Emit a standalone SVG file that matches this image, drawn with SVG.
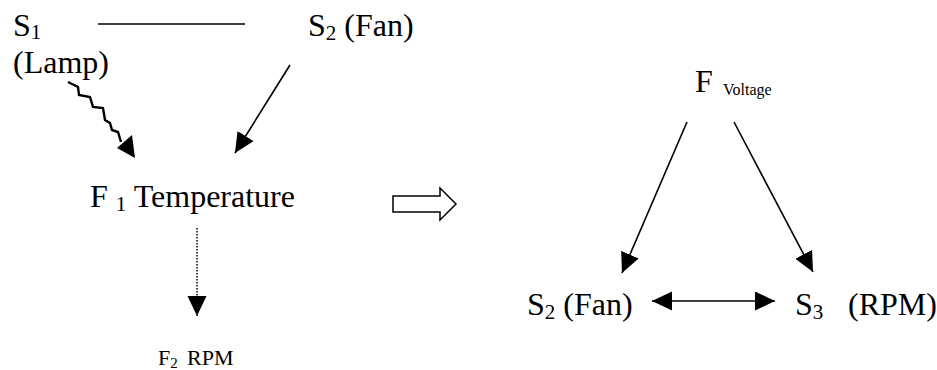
<svg xmlns="http://www.w3.org/2000/svg" width="937" height="370" viewBox="0 0 937 370">
<style>
text{font-family:"Liberation Serif","Times New Roman",serif;font-size:32px;fill:#000}
.sub{font-size:21px}
.ln{stroke:#000;stroke-width:1.6;fill:none}
</style>
<defs>
<marker id="ah" markerUnits="userSpaceOnUse" markerWidth="22" markerHeight="20" refX="20" refY="9.5" orient="auto-start-reverse" viewBox="0 0 22 20">
<path d="M0,0 L20,9.5 L0,19 z" fill="#000"/>
</marker>
</defs>
<rect width="937" height="370" fill="#fff"/>
<g id="connectors">
<line class="ln" x1="98" y1="24" x2="245" y2="24"/>
<path d="M68,82 L78,87 L79,95 L90,97 L93,107 L103,108 L105,120 L110,123 L112,130 L118,132 L121,142" stroke="#000" stroke-width="2.4" fill="none"/>
<polygon points="135,158 117,148 132,135" fill="#000"/>
<line class="ln" x1="290" y1="65" x2="235" y2="153" marker-end="url(#ah)"/>
<line x1="197" y1="228" x2="197" y2="316" stroke="#000" stroke-width="1.5" stroke-dasharray="1.5,1.5" marker-end="url(#ah)"/>
<polygon points="393,196 440,196 440,188 456,204 440,220 440,212 393,212" fill="#fff" stroke="#000" stroke-width="1.5"/>
<line class="ln" x1="687" y1="122" x2="622" y2="273" marker-end="url(#ah)"/>
<line class="ln" x1="734" y1="122" x2="813" y2="272" marker-end="url(#ah)"/>
<line class="ln" x1="652" y1="301" x2="775" y2="301" marker-start="url(#ah)" marker-end="url(#ah)"/>
</g>
<g id="s1"><text x="13" y="36">S<tspan class="sub" dy="3">1</tspan></text><text x="13" y="73">(Lamp)</text></g>
<g id="s2-left"><text x="308" y="36">S<tspan class="sub" dy="4">2</tspan><tspan dy="-4"> (Fan)</tspan></text></g>
<g id="f1"><text x="90" y="207">F <tspan class="sub" dy="4">1</tspan><tspan dy="-4"> Temperature</tspan></text></g>
<g id="f2"><text x="158" y="365" style="font-size:22px">F<tspan style="font-size:15px" dy="3">2</tspan></text><text x="187" y="365" style="font-size:22px">RPM</text></g>
<g id="fvoltage"><text x="695" y="92">F</text><text x="723" y="95" style="font-size:16px">Voltage</text></g>
<g id="s2-right"><text x="527" y="315">S<tspan class="sub" dy="4">2</tspan><tspan dy="-4"> (Fan)</tspan></text></g>
<g id="s3"><text x="795" y="315">S<tspan class="sub" dy="4">3</tspan></text><text x="848" y="315">(RPM)</text></g>
</svg>
